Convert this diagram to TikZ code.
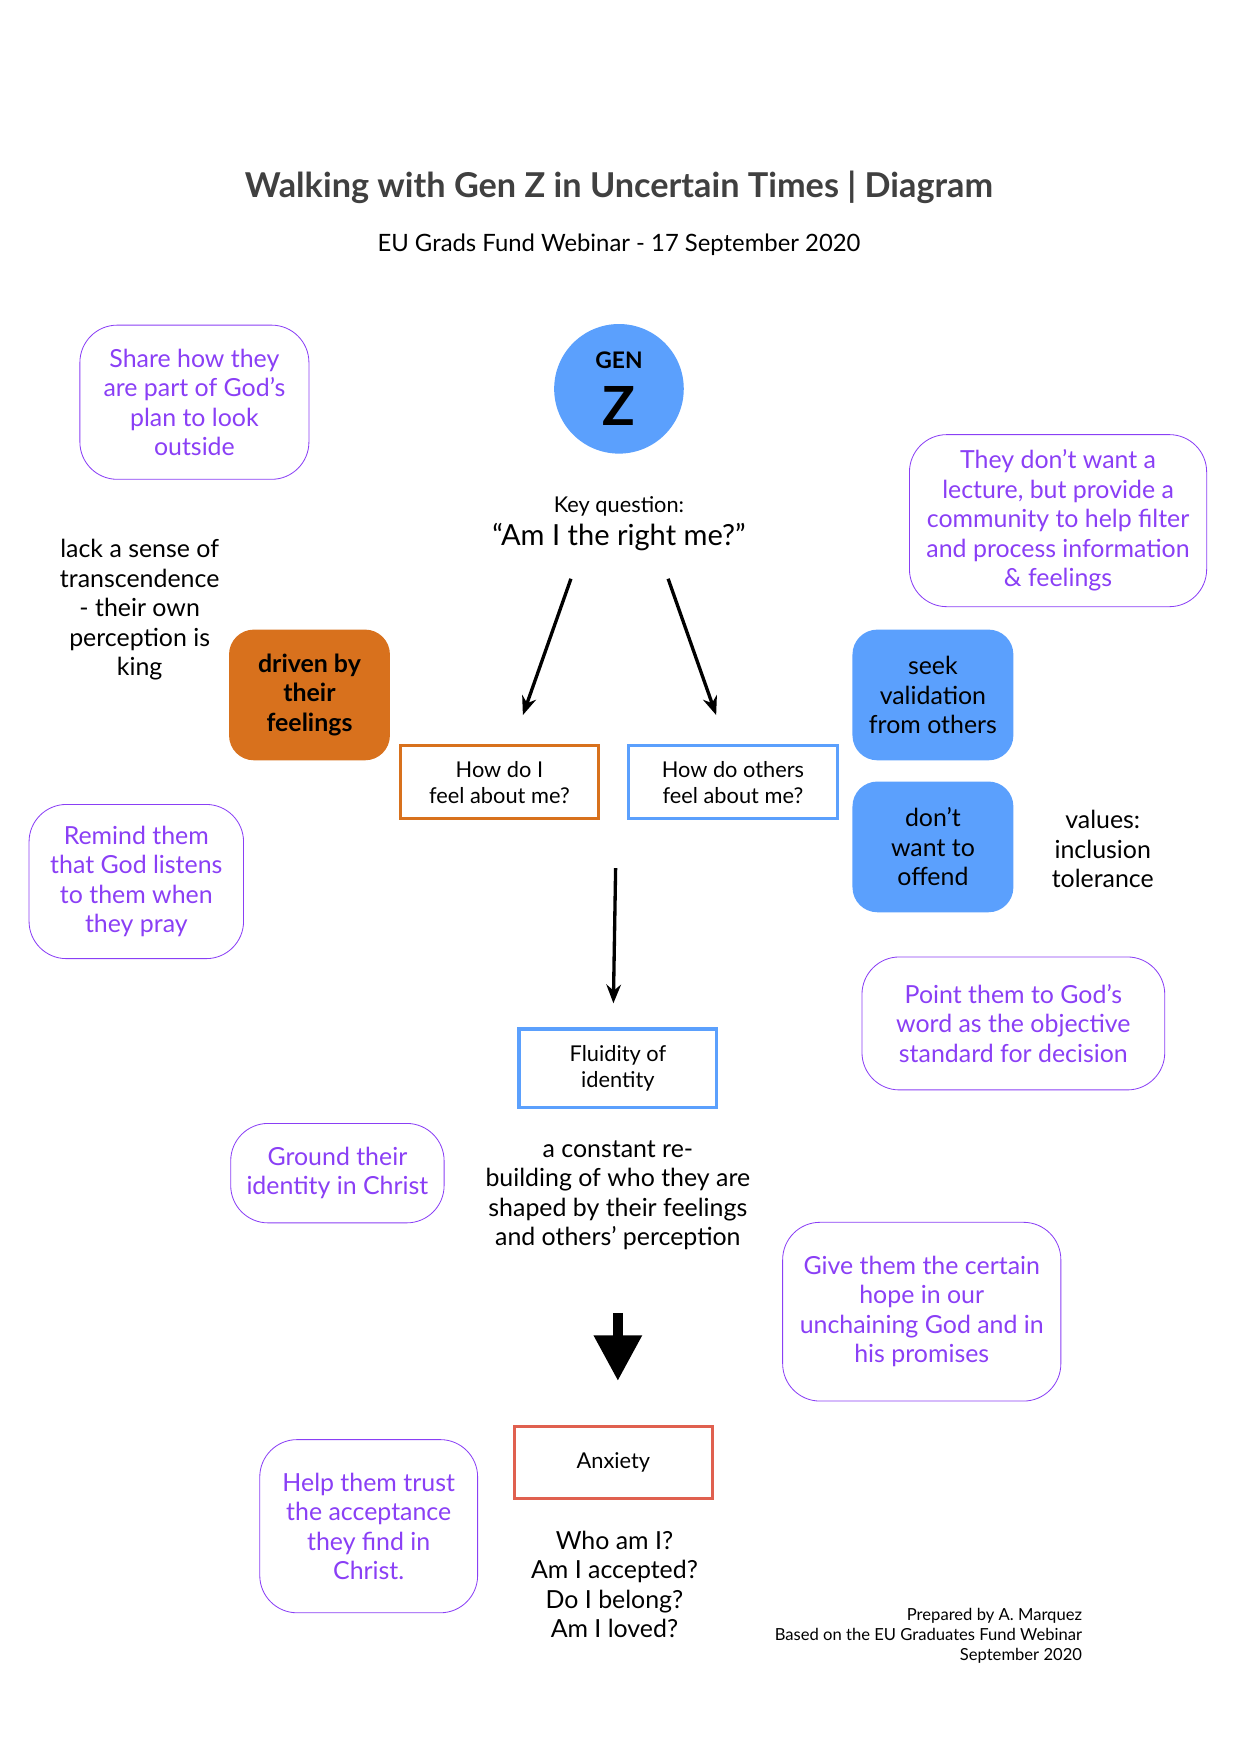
\documentclass[tikz,border=0pt]{standalone}
\usepackage{fontspec}
\setmainfont{Lato}
\usetikzlibrary{arrows.meta}
\definecolor{tipcol}{HTML}{8A3FF5}
\definecolor{genblue}{HTML}{5BA0FD}
\definecolor{feelor}{HTML}{D8711D}
\definecolor{anxred}{HTML}{E0604F}
\definecolor{titlegray}{HTML}{404040}
\tikzset{
  tip/.style={draw=tipcol, text=tipcol, rounded corners=18pt, align=center, font=\fontsize{12}{14.2}\selectfont, inner sep=0pt},
  qbox/.style={draw, line width=1.6pt, align=center, font=\fontsize{10.5}{12.5}\selectfont, inner sep=0pt},
  fillbox/.style={fill=#1, rounded corners=12pt, align=center, font=\fontsize{12}{14.2}\selectfont, inner sep=0pt, minimum width=144*0.01892cm, minimum height=117*0.01892cm},
  plain/.style={align=center, font=\fontsize{12}{14.2}\selectfont},
  flow/.style={-{Stealth[length=9pt,width=7pt]}, line width=1.6pt}
}
\begin{document}
\begin{tikzpicture}[x=0.01892cm, y=-0.01892cm]
\useasboundingbox (0,0) rectangle (1110,1569);
% heading
\node (title) at (554,168) {\fontsize{16.5}{20}\selectfont\bfseries\color{titlegray}Walking with Gen Z in Uncertain Times | Diagram};
\node (sub) at (554,219) {\fontsize{11.5}{14}\selectfont EU Grads Fund Webinar - 17 September 2020};

% centre column
\node[circle, fill=genblue, minimum size=116*0.01892cm] (genz) at (554,348) {};
\node[font=\fontsize{11}{13}\selectfont\bfseries] (gen) at (554,322) {GEN};
\node[font=\fontsize{26}{30}\selectfont\bfseries] (z) at (554,363) {Z};
\node[font=\fontsize{10.5}{12.5}\selectfont] (key) at (554,453) {Key question:};
\node[font=\fontsize{14}{17}\selectfont] (right) at (554,481) {“Am I the right me?”};

\node[qbox, draw=feelor, minimum width=177*0.01892cm, minimum height=65*0.01892cm] (self) at (447,700) {How do I\\feel about me?};
\node[qbox, draw=genblue, minimum width=187*0.01892cm, minimum height=65*0.01892cm] (others) at (656,700) {How do others\\feel about me?};
\node[qbox, draw=genblue, minimum width=177*0.01892cm, minimum height=70*0.01892cm] (fluid) at (553,956) {Fluidity of\\identity};
\node[plain] (rebuild) at (553,1070) {a constant re-\\building of who they are\\shaped by their feelings\\and others’ perception};
\node[qbox, draw=anxred, minimum width=177*0.01892cm, minimum height=64*0.01892cm] (anx) at (549,1309) {Anxiety};
\node[plain] (who) at (550,1418) {Who am I?\\Am I accepted?\\Do I belong?\\Am I loved?};

\coordinate (a1) at (511,518); \coordinate (b1) at (468,640);
\coordinate (a2) at (598,518); \coordinate (b2) at (641,640);
\coordinate (a3) at (551,777); \coordinate (b3) at (549,898);
\coordinate (a4) at (553,1175); \coordinate (b4) at (553,1236);
\draw[flow] (a1) -- (b1);
\draw[flow] (a2) -- (b2);
\draw[flow] (a3) -- (b3);
\draw[-{Triangle[length=22pt,width=22pt]}, line width=5pt] (a4) -- (b4);

% side boxes
\node[fillbox=feelor, font=\fontsize{12}{14.2}\selectfont\bfseries] (driven) at (277,622) {driven by\\their\\feelings};
\node[plain] (lack) at (125,546) {lack a sense of\\transcendence\\- their own\\perception is\\king};
\node[fillbox=genblue] (seek) at (835,622) {seek\\validation\\from others};
\node[fillbox=genblue] (offend) at (835,758) {don’t\\want to\\offend};
\node[plain] (values) at (987,760) {values:\\inclusion\\tolerance};

% advice
\node[tip, minimum width=205*0.01892cm, minimum height=138*0.01892cm] (share) at (174,360) {Share how they\\are part of God’s\\plan to look\\outside};
\node[tip, minimum width=266*0.01892cm, minimum height=154*0.01892cm] (lecture) at (947,466) {They don’t want a\\lecture, but provide a\\community to help filter\\and process information\\\& feelings};
\node[tip, minimum width=192*0.01892cm, minimum height=138*0.01892cm] (remind) at (122,789) {Remind them\\that God listens\\to them when\\they pray};
\node[tip, minimum width=271*0.01892cm, minimum height=119*0.01892cm] (point) at (907,916) {Point them to God’s\\word as the objective\\standard for decision};
\node[tip, minimum width=191*0.01892cm, minimum height=89*0.01892cm] (ground) at (302,1050) {Ground their\\identity in Christ};
\node[tip, minimum width=249*0.01892cm, minimum height=160*0.01892cm] (hope) at (825,1174) {Give them the certain\\hope in our\\unchaining God and in\\his promises};
\node[tip, minimum width=195*0.01892cm, minimum height=155*0.01892cm] (trust) at (330,1366) {Help them trust\\the acceptance\\they find in\\Christ.};

% footer
\node[anchor=north east, align=right, font=\fontsize{8}{9.6}\selectfont] (foot) at (975,1433) {Prepared by A. Marquez\\Based on the EU Graduates Fund Webinar\\September 2020};
\end{tikzpicture}
\end{document}
